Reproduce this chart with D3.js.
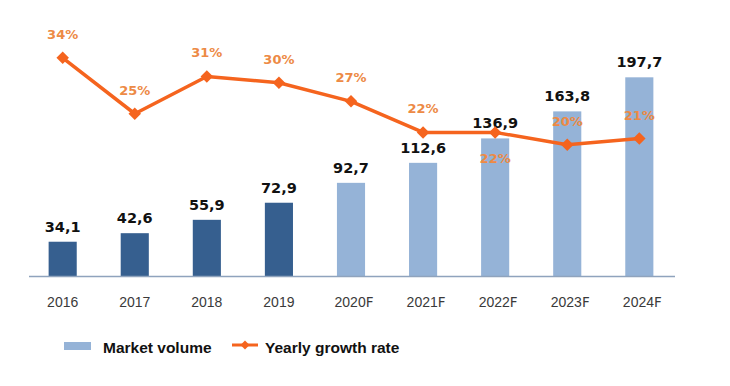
<!DOCTYPE html>
<html><head><meta charset="utf-8">
<script src="https://cdn.jsdelivr.net/npm/d3@7"></script>
<style>body{margin:0;background:#fff}svg{display:block}</style>
</head><body>
<svg id="c" width="730" height="386"></svg>
<script>
const years = ["2016","2017","2018","2019","2020","2021","2022","2023","2024"];
const forecast = [false,false,false,false,true,true,true,true,true];
const volume = [34.1,42.6,55.9,72.9,92.7,112.6,136.9,163.8,197.7];
const volumeLabels = ["34,1","42,6","55,9","72,9","92,7","112,6","136,9","163,8","197,7"];
const growth = [0.34,0.25,0.31,0.30,0.27,0.22,0.22,0.20,0.21];
const growthLabels = ["34%","25%","31%","30%","27%","22%","22%","20%","21%"];
const labelBelow = [false,false,false,false,false,false,true,false,false];

const svg = d3.select("#c");
const x = d3.scaleBand().domain(years).range([27, 675]).paddingInner(0.61).paddingOuter(0.3);
const y = d3.scaleLinear().domain([0, 200]).range([276, 75]);
const yr = d3.scaleLinear().domain([0, 0.40]).range([269, 20.6]);
const cx = d => x(d) + x.bandwidth()/2;

// bars
svg.selectAll("rect.bar").data(years).join("rect")
  .attr("x", d => x(d)).attr("width", x.bandwidth())
  .attr("y", (d,i) => y(volume[i])).attr("height", (d,i) => y(0) - y(volume[i]))
  .attr("fill", (d,i) => forecast[i] ? "#95b3d7" : "#365f8f");

// baseline
svg.append("line").attr("x1", 29).attr("x2", 675).attr("y1", y(0)+0.5).attr("y2", y(0)+0.5)
  .attr("stroke", "#8fa3bd").attr("stroke-width", 1.5);

// bar value labels
svg.selectAll("text.val").data(years).join("text")
  .attr("x", d => cx(d)).attr("y", (d,i) => y(volume[i]) - 10)
  .attr("text-anchor", "middle").attr("font-family", "DejaVu Sans, sans-serif")
  .attr("font-weight", "bold").attr("font-size", 14.5).attr("fill", "#111")
  .text((d,i) => volumeLabels[i]);

// line
const line = d3.line().x((d,i) => cx(years[i])).y(d => yr(d));
svg.append("path").datum(growth).attr("d", line).attr("fill", "none")
  .attr("stroke", "#f5641e").attr("stroke-width", 3.5).attr("stroke-linejoin", "round");
svg.selectAll("path.mk").data(growth).join("path")
  .attr("d", d3.symbol().type(d3.symbolSquare).size(78))
  .attr("transform", (d,i) => `translate(${cx(years[i])},${yr(d)}) rotate(45)`)
  .attr("fill", "#f5641e");

svg.selectAll("text.pct").data(growth).join("text")
  .attr("x", (d,i) => cx(years[i]))
  .attr("y", (d,i) => labelBelow[i] ? yr(d) + 31 : yr(d) - 19)
  .attr("text-anchor", "middle").attr("font-family", "DejaVu Sans, sans-serif")
  .attr("font-weight", "bold").attr("font-size", 13).attr("fill", "#ed8a45")
  .text((d,i) => growthLabels[i]);

// x axis labels
const xl = svg.selectAll("text.xl").data(years).join("text")
  .attr("x", d => cx(d) + (forecast[years.indexOf(d)] ? 3 : 0)).attr("y", 307)
  .attr("text-anchor", "middle").attr("font-family", "Liberation Sans, Arial, sans-serif")
  .attr("font-size", 14).attr("fill", "#3a3a3a");
xl.append("tspan").text(d => d);
xl.append("tspan").attr("font-family","DejaVu Sans, sans-serif").attr("font-size", 13.5)
  .text((d,i) => forecast[i] ? "F" : "");

// legend
svg.append("rect").attr("x", 64).attr("y", 342).attr("width", 27).attr("height", 8).attr("fill", "#95b3d7");
svg.append("text").attr("x", 103).attr("y", 353).attr("font-family", "Liberation Sans, Arial, sans-serif")
  .attr("font-weight", "bold").attr("font-size", 15.5).attr("fill", "#111").text("Market volume");
svg.append("line").attr("x1", 232).attr("x2", 258).attr("y1", 345).attr("y2", 345)
  .attr("stroke", "#f5641e").attr("stroke-width", 3);
svg.append("path").attr("d", d3.symbol().type(d3.symbolSquare).size(40))
  .attr("transform", "translate(245,345) rotate(45)").attr("fill", "#f5641e");
svg.append("text").attr("x", 265).attr("y", 353).attr("font-family", "Liberation Sans, Arial, sans-serif")
  .attr("font-weight", "bold").attr("font-size", 15.5).attr("fill", "#111").text("Yearly growth rate");
</script>
</body></html>
